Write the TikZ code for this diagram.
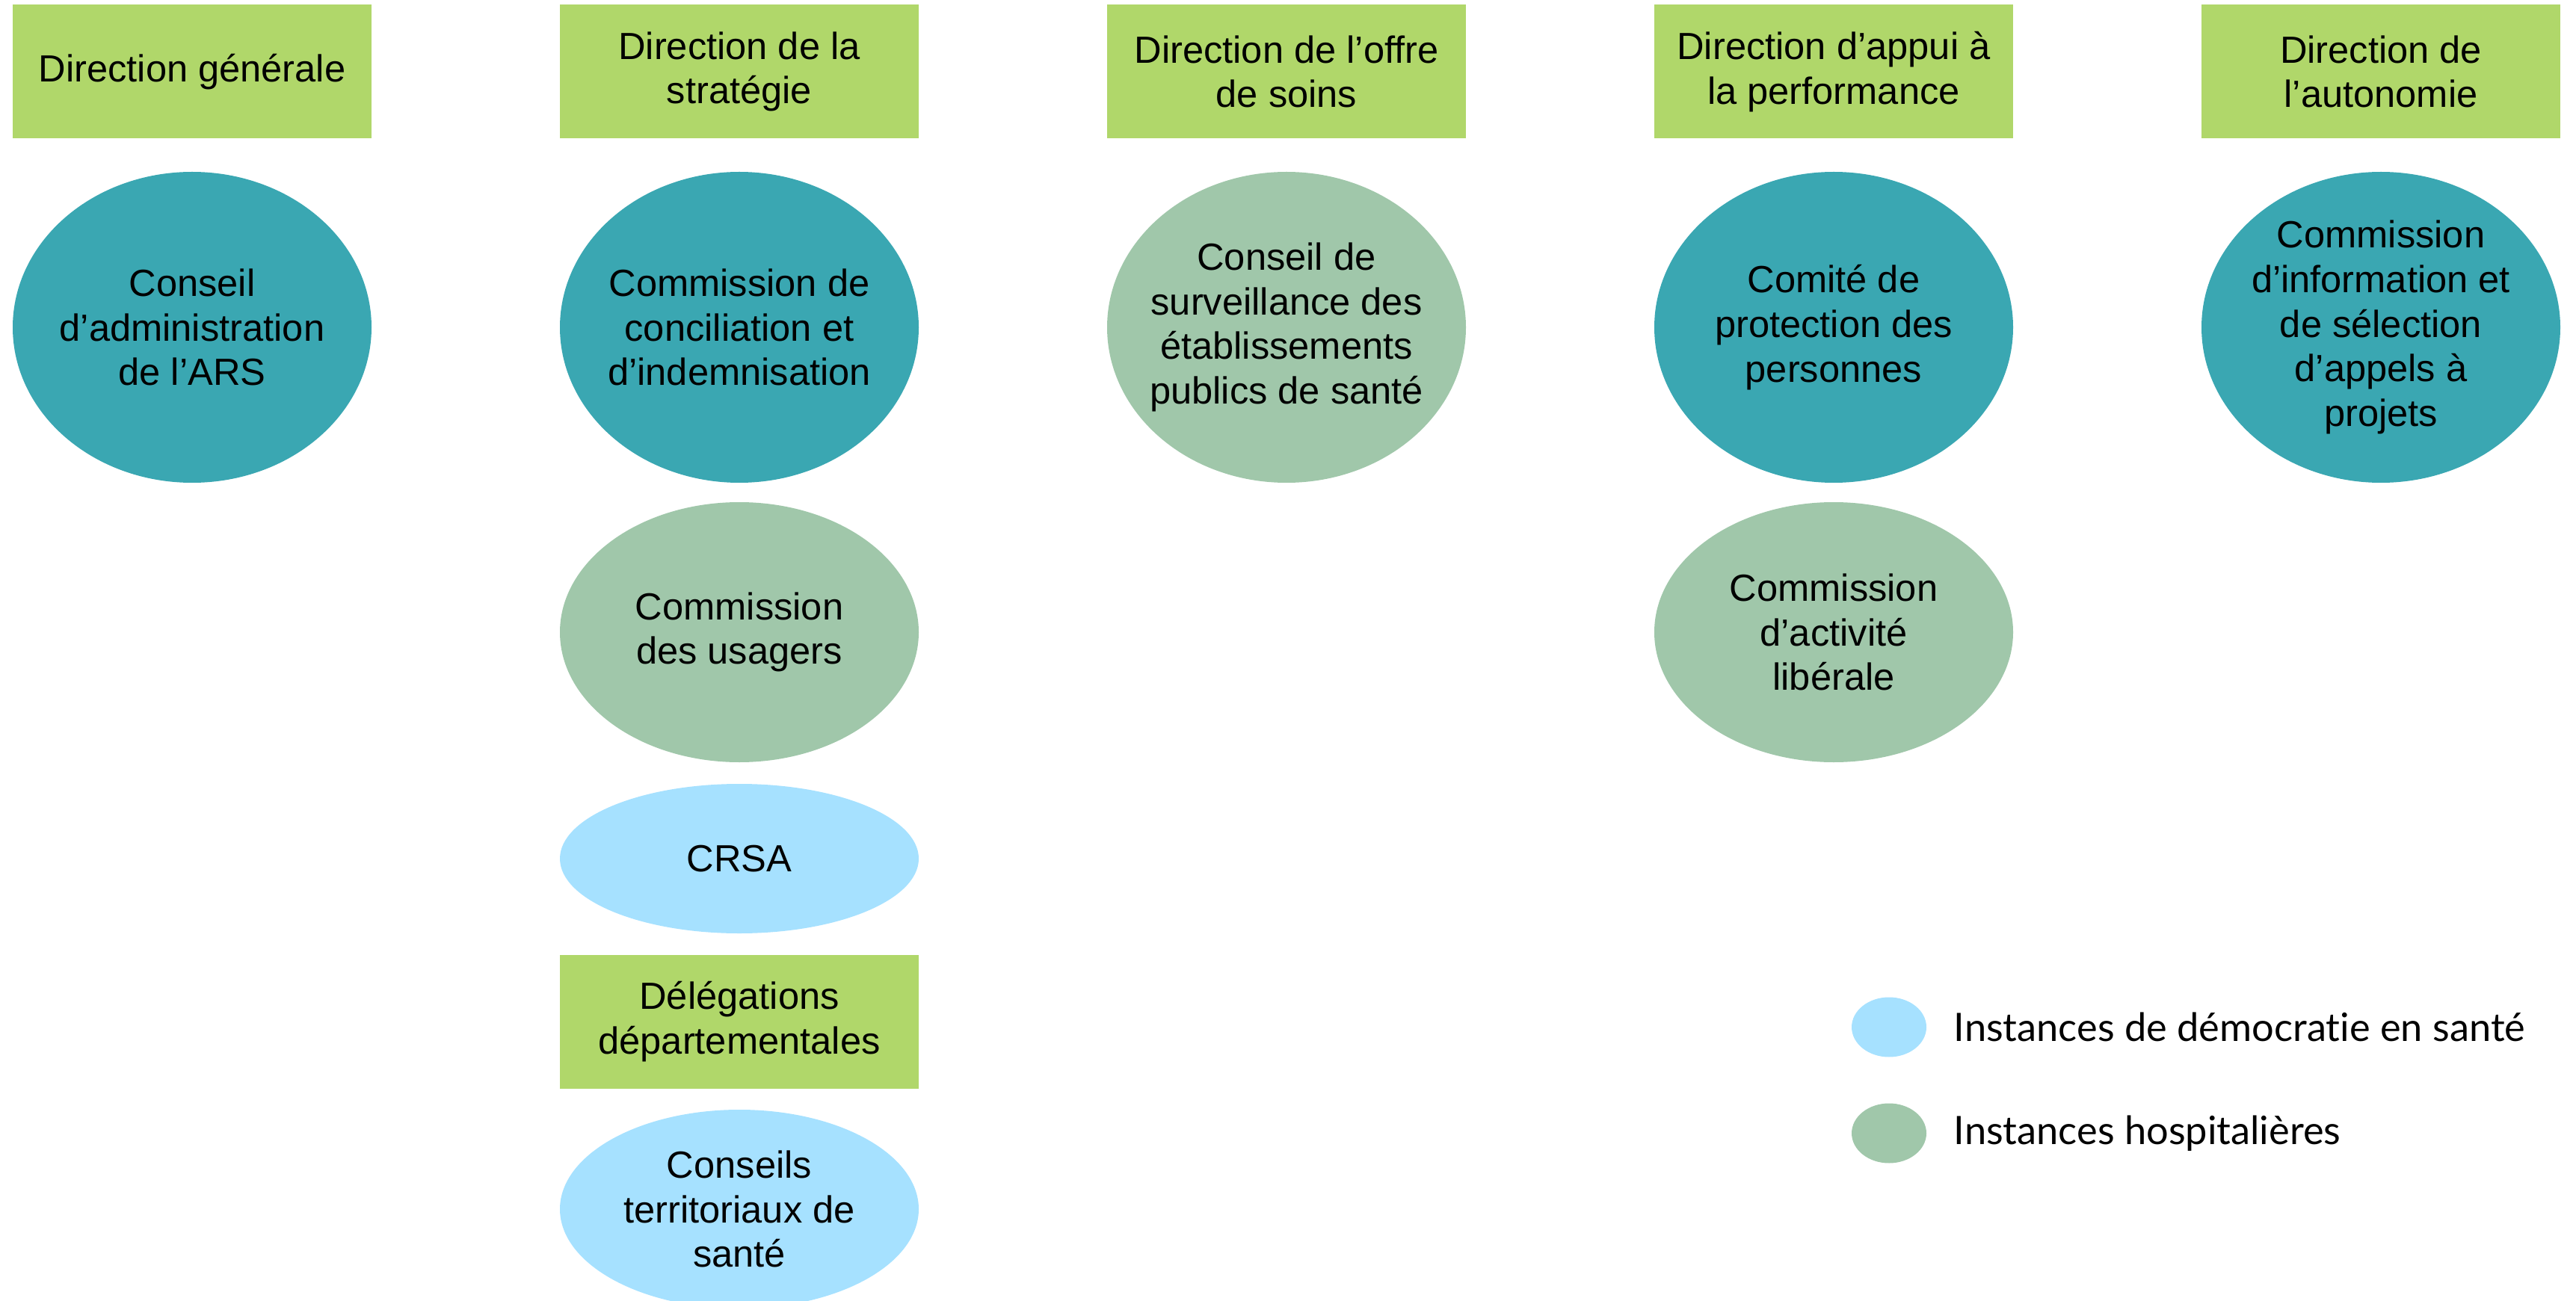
\documentclass[tikz,border=0pt]{standalone}
\usepackage{fontspec}
\setmainfont{Liberation Sans}
\newfontfamily\legendfont[Ligatures=NoCommon]{Lato}
\usetikzlibrary{shapes.geometric}

\definecolor{dirgreen}{HTML}{B0D76A}
\definecolor{instteal}{HTML}{3AA7B2}
\definecolor{insthosp}{HTML}{A0C7AA}
\definecolor{instdemo}{HTML}{A6E1FF}

\tikzset{
	direction/.style={fill=dirgreen, minimum width=4.8cm, minimum height=1.79cm,
		align=center, inner sep=0pt, font=\fontsize{14.4}{17}\selectfont},
	instance/.style={ellipse, minimum width=4.8cm, inner sep=0pt},
	insttext/.style={align=center, inner sep=0pt, font=\fontsize{14.4}{17}\selectfont},
	legendtext/.style={anchor=west, inner sep=0pt, font=\legendfont\fontsize{14.9}{17}\selectfont}
}

\begin{document}
\begin{tikzpicture}

	\useasboundingbox (0,0) rectangle (34.46,-17.41);
	\clip (0,0) rectangle (34.46,-17.41);

	% directions
	\node[direction] (dg) at (2.57,-0.96) {Direction générale};
	\node[direction] (ds) at (9.89,-0.96) {Direction de la\\stratégie};
	\node[direction] (dos) at (17.21,-0.96) {Direction de l’offre\\de soins};
	\node[direction] (dap) at (24.53,-0.96) {Direction d’appui à\\la performance};
	\node[direction] (dau) at (31.85,-0.96) {Direction de\\l’autonomie};

	% instances
	\node[instance, fill=instteal, minimum height=4.16cm,
		label={[insttext]center:Conseil\\d’administration\\de l’ARS}] (ca) at (2.57,-4.38) {};
	\node[instance, fill=instteal, minimum height=4.16cm,
		label={[insttext]center:Commission de\\conciliation et\\d’indemnisation}] (cci) at (9.89,-4.38) {};
	\node[instance, fill=insthosp, minimum height=4.16cm,
		label={[insttext]center:Conseil de\\surveillance des\\établissements\\publics de santé}] (cs) at (17.21,-4.38) {};
	\node[instance, fill=instteal, minimum height=4.16cm,
		label={[insttext]center:Comité de\\protection des\\personnes}] (cpp) at (24.53,-4.38) {};
	\node[instance, fill=instteal, minimum height=4.16cm,
		label={[insttext]center:Commission\\d’information et\\de sélection\\d’appels à\\projets}] (cis) at (31.85,-4.38) {};

	\node[instance, fill=insthosp, minimum height=3.48cm,
		label={[insttext]center:Commission\\des usagers}] (cdu) at (9.89,-8.46) {};
	\node[instance, fill=insthosp, minimum height=3.48cm,
		label={[insttext]center:Commission\\d’activité\\libérale}] (cal) at (24.53,-8.46) {};

	\node[instance, fill=instdemo, minimum height=2.0cm,
		label={[insttext]center:CRSA}] (crsa) at (9.89,-11.49) {};
	\node[direction] (dd) at (9.89,-13.67) {Délégations\\départementales};
	\node[instance, fill=instdemo, minimum height=2.66cm,
		label={[insttext]center:Conseils\\territoriaux de\\santé}] (cts) at (9.89,-16.18) {};

	% legende
	\node[ellipse, fill=instdemo, minimum width=1cm, minimum height=0.8cm, inner sep=0pt] (lgd) at (25.27,-13.745) {};
	\node[ellipse, fill=insthosp, minimum width=1cm, minimum height=0.8cm, inner sep=0pt] (lgh) at (25.27,-15.165) {};
	\node[legendtext] (lgdt) at (26.13,-13.745) {Instances de démocratie en santé};
	\node[legendtext] (lght) at (26.13,-15.165) {Instances hospitalières};

\end{tikzpicture}
\end{document}
